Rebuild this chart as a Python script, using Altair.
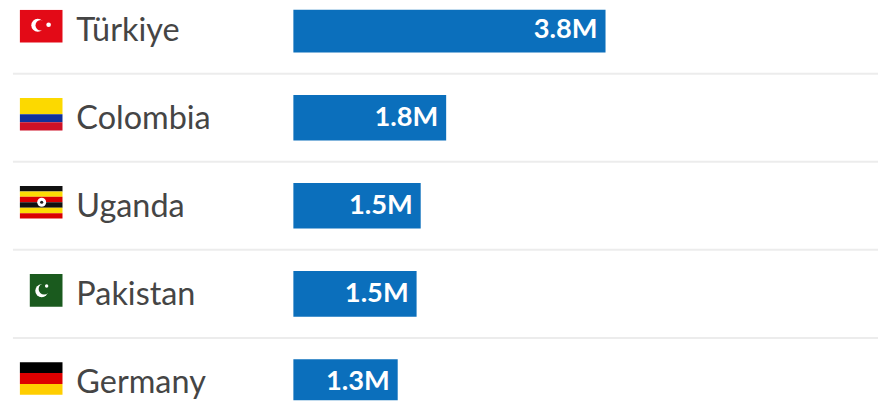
import altair as alt
import pandas as pd

countries = ["Türkiye", "Colombia", "Uganda", "Pakistan", "Germany"]
values = [3.8, 1.86, 1.55, 1.5, 1.27]
labels = ["3.8M", "1.8M", "1.5M", "1.5M", "1.3M"]

flag_stripes = {
    "Türkiye": [("#e30a17", 1)],
    "Colombia": [("#fcd900", 2), ("#10309a", 1), ("#ce1126", 1)],
    "Uganda": [("#111111", 1), ("#fcdc04", 1), ("#d90000", 1), ("#111111", 1), ("#fcdc04", 1), ("#d90000", 1)],
    "Pakistan": [("#1a5a1e", 1)],
    "Germany": [("#000000", 1), ("#dd0000", 1), ("#ffce00", 1)],
}

W, H = 878, 394
PX_PER_M = 82.9
ROW = 88.9
x_scale = alt.Scale(domain=[-288 / PX_PER_M, (W - 288) / PX_PER_M], nice=False, zero=False, padding=0, range=[0, W])
y_scale = alt.Scale(domain=[-20 / ROW, (H - 20) / ROW], nice=False, zero=False, padding=0, range=[0, H])
X = lambda f: alt.X(f, type="quantitative", scale=x_scale, axis=None)
Y = lambda f: alt.Y(f, type="quantitative", scale=y_scale, axis=None)

rows = pd.DataFrame({"country": countries, "value": values, "label": labels, "row": range(5)})
rows["sep"] = rows["row"] + 0.5
rows["name_y"] = rows["row"] + 0.012

stripes = []
for i, c in enumerate(countries):
    total = sum(w for _, w in flag_stripes[c])
    top = i - 0.04 - 0.185
    acc = 0
    for col, w in flag_stripes[c]:
        stripes.append({
            "country": c, "color": col,
            "y0": top + 0.37 * acc / total,
            "y1": top + 0.37 * (acc + w) / total,
        })
        acc += w
stripes = pd.DataFrame(stripes)

bars = alt.Chart(rows).mark_bar(size=46, orient="horizontal", color="#0b6fbc", cornerRadius=0, clip=True).encode(
    x=X("value"), y=Y("row")
)
value_text = alt.Chart(rows).mark_text(
    align="right", baseline="middle", dx=-8, font="Lato", fontSize=27.5, fontWeight="bold", color="#ffffff", clip=True
).encode(x=X("value"), y=Y("row"), text="label:N")
names = alt.Chart(rows).mark_text(
    align="left", baseline="middle", font="Lato", fontSize=32.7, color="#454545", clip=True
).encode(x=alt.value(69), y=Y("name_y"), text="country:N")
seps = alt.Chart(rows[rows.row < 4]).mark_rule(color="#ececec", strokeWidth=2, clip=True).encode(
    x=alt.value(5), x2=alt.value(W), y=Y("sep")
)

def flag_layer(names_list, x0, x1):
    d = stripes[stripes.country.isin(names_list)]
    return alt.Chart(d).mark_rect(clip=True).encode(
        x=alt.value(x0), x2=alt.value(x1), y=Y("y0"), y2="y1:Q",
        color=alt.Color("color:N", scale=None)
    )

emblems = pd.DataFrame([
    {"x": 30, "row": -0.04 - 0.01, "size": 169, "color": "#ffffff"},
    {"x": 33, "row": -0.04 - 0.01, "size": 110, "color": "#e30a17"},
    {"x": 41, "row": -0.04 - 0.015, "size": 22, "color": "#ffffff"},
    {"x": 34, "row": 2 - 0.04, "size": 81, "color": "#ffffff"},
    {"x": 34, "row": 2 - 0.04, "size": 10, "color": "#222222"},
    {"x": 34, "row": 3 - 0.04 + 0.005, "size": 169, "color": "#ffffff"},
    {"x": 36.5, "row": 3 - 0.04 - 0.015, "size": 125, "color": "#1a5a1e"},
    {"x": 39, "row": 3 - 0.04 - 0.05, "size": 12, "color": "#ffffff"},
])
emblem_layers = [
    alt.Chart(emblems.iloc[[i]]).mark_point(filled=True, shape="circle", opacity=1, clip=True).encode(
        x=alt.value(float(r.x)), y=Y("row"), size=alt.Size("size:Q", scale=None),
        color=alt.Color("color:N", scale=None)
    )
    for i, r in enumerate(emblems.itertuples())
]

chart = alt.layer(
    seps, bars, value_text, names,
    flag_layer(["Türkiye", "Colombia", "Uganda", "Germany"], 12, 55),
    flag_layer(["Pakistan"], 22, 55),
    *emblem_layers,
).properties(
    width=W, height=H, padding=0, autosize=alt.AutoSizeParams(type="fit", contains="padding"), background="#ffffff"
).configure_view(stroke=None)

chart.save("out.html", embed_options={"renderer": "svg", "actions": False})
